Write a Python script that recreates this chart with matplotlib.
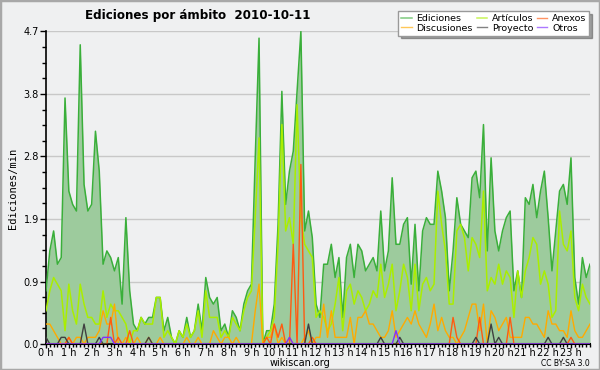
import matplotlib
matplotlib.use("Agg")
import matplotlib.pyplot as plt
from matplotlib.patches import Rectangle
from matplotlib.ticker import MultipleLocator, FixedLocator
import numpy as np

# ediciones por minuto, cada 10 minutos (144 puntos)
ediciones = [0.8, 1.4, 1.7, 1.2, 1.3, 3.7, 2.3, 2.1, 2.0, 4.5, 2.4, 2.0, 2.1, 3.2, 2.6, 1.2, 1.4, 1.3, 1.1, 1.3, 0.6, 1.9, 0.8, 0.3,
             0.2, 0.4, 0.3, 0.4, 0.4, 0.7, 0.7, 0.2, 0.4, 0.1, 0.0, 0.2, 0.1, 0.4, 0.1, 0.2, 0.6, 0.2, 1.0, 0.7, 0.6, 0.7, 0.2, 0.3,
             0.1, 0.5, 0.4, 0.2, 0.6, 0.8, 0.9, 2.8, 4.6, 0.0, 0.2, 0.2, 0.6, 1.8, 3.8, 2.1, 2.6, 2.9, 3.8, 4.7, 1.7, 2.0, 1.6, 0.6,
             0.4, 1.2, 1.2, 1.5, 1.0, 1.3, 0.4, 1.3, 1.5, 1.0, 1.5, 1.4, 1.1, 1.2, 1.3, 1.1, 2.0, 1.1, 1.4, 2.5, 1.5, 1.5, 1.8, 1.9,
             0.9, 1.8, 0.8, 1.7, 1.9, 1.8, 1.8, 2.6, 2.3, 1.9, 0.8, 1.4, 2.2, 1.8, 1.7, 1.6, 2.5, 2.6, 2.2, 3.3, 1.4, 2.8, 1.7, 1.4,
             1.7, 1.9, 2.0, 0.8, 1.1, 0.7, 2.2, 2.1, 2.4, 1.9, 2.3, 2.6, 1.9, 1.1, 1.7, 2.3, 2.4, 2.1, 2.8, 1.0, 0.6, 1.3, 1.0, 1.2]
articulos = [0.5, 0.8, 1.0, 0.9, 0.8, 0.2, 0.9, 0.5, 0.3, 0.9, 0.6, 0.4, 0.4, 0.3, 0.3, 0.8, 0.4, 0.6, 0.5, 0.5, 0.4, 0.3, 0.0, 0.2,
             0.2, 0.4, 0.3, 0.3, 0.3, 0.7, 0.7, 0.1, 0.2, 0.1, 0.0, 0.2, 0.1, 0.3, 0.1, 0.2, 0.5, 0.1, 0.8, 0.4, 0.4, 0.4, 0.1, 0.2,
             0.1, 0.4, 0.3, 0.2, 0.5, 0.7, 0.8, 1.9, 3.1, 0.0, 0.1, 0.2, 0.4, 1.5, 3.3, 1.7, 1.9, 1.5, 3.6, 1.9, 1.5, 1.4, 1.3, 0.4,
             0.5, 0.4, 0.2, 0.3, 0.6, 1.0, 0.2, 0.8, 0.9, 0.6, 0.8, 0.7, 0.5, 0.6, 0.8, 0.7, 1.2, 0.7, 0.9, 1.2, 0.5, 0.8, 1.2, 1.0,
             0.5, 1.2, 0.5, 0.9, 1.0, 0.8, 0.9, 2.3, 1.8, 1.4, 0.6, 0.6, 1.7, 1.8, 1.6, 1.1, 1.6, 1.5, 1.3, 2.3, 0.8, 1.0, 0.9, 1.2,
             0.9, 1.1, 1.0, 0.4, 1.1, 0.7, 1.1, 1.3, 1.6, 1.5, 0.9, 1.1, 0.9, 0.4, 0.5, 2.0, 1.5, 1.4, 1.7, 0.7, 0.5, 0.9, 0.7, 0.6]
discusiones = [0.3, 0.3, 0.2, 0.1, 0.0, 0.0, 0.1, 0.0, 0.1, 0.1, 0.0, 0.1, 0.1, 0.1, 0.2, 0.5, 0.3, 0.3, 0.6, 0.0, 0.0, 0.1, 0.0, 0.0,
               0.1, 0.0, 0.0, 0.1, 0.0, 0.0, 0.1, 0.0, 0.0, 0.0, 0.0, 0.0, 0.0, 0.1, 0.0, 0.0, 0.1, 0.0, 0.0, 0.0, 0.2, 0.1, 0.0, 0.1,
               0.1, 0.0, 0.1, 0.0, 0.0, 0.0, 0.0, 0.5, 0.9, 0.0, 0.1, 0.1, 0.3, 0.0, 0.1, 0.0, 0.1, 0.0, 0.0, 0.0, 0.1, 0.2, 0.0, 0.1,
               0.1, 0.6, 0.1, 0.5, 0.1, 0.1, 0.1, 0.1, 0.4, 0.0, 0.4, 0.4, 0.5, 0.3, 0.3, 0.2, 0.1, 0.1, 0.2, 0.5, 0.1, 0.2, 0.3, 0.4,
               0.3, 0.5, 0.3, 0.2, 0.1, 0.3, 0.6, 0.2, 0.4, 0.2, 0.1, 0.1, 0.0, 0.1, 0.2, 0.4, 0.6, 0.6, 0.2, 0.6, 0.0, 0.5, 0.4, 0.2,
               0.3, 0.4, 0.1, 0.1, 0.1, 0.1, 0.4, 0.4, 0.3, 0.3, 0.2, 0.1, 0.5, 0.3, 0.3, 0.2, 0.2, 0.1, 0.5, 0.2, 0.1, 0.1, 0.2, 0.3]
anexos = [0.0, 0.0, 0.0, 0.0, 0.0, 0.0, 0.1, 0.0, 0.0, 0.0, 0.0, 0.0, 0.0, 0.0, 0.0, 0.0, 0.0, 0.4, 0.0, 0.1, 0.0, 0.0, 0.2, 0.0,
          0.0, 0.0, 0.0, 0.0, 0.0, 0.0, 0.0, 0.0, 0.0, 0.0, 0.0, 0.0, 0.0, 0.0, 0.0, 0.0, 0.0, 0.0, 0.0, 0.0, 0.0, 0.0, 0.0, 0.0,
          0.0, 0.0, 0.0, 0.0, 0.0, 0.0, 0.0, 0.0, 0.0, 0.0, 0.1, 0.0, 0.3, 0.1, 0.3, 0.0, 0.0, 1.5, 0.0, 2.7, 0.0, 0.0, 0.1, 0.0,
          0.0, 0.0, 0.0, 0.0, 0.0, 0.0, 0.0, 0.0, 0.0, 0.0, 0.0, 0.0, 0.0, 0.0, 0.0, 0.0, 0.0, 0.0, 0.0, 0.0, 0.0, 0.0, 0.0, 0.0,
          0.0, 0.0, 0.0, 0.0, 0.0, 0.0, 0.0, 0.0, 0.0, 0.0, 0.0, 0.4, 0.1, 0.0, 0.0, 0.0, 0.0, 0.0, 0.4, 0.0, 0.0, 0.0, 0.0, 0.0,
          0.0, 0.0, 0.4, 0.0, 0.0, 0.0, 0.0, 0.0, 0.0, 0.0, 0.0, 0.0, 0.0, 0.0, 0.0, 0.0, 0.0, 0.0, 0.1, 0.0, 0.0, 0.0, 0.0, 0.0]
proyecto = [0.1, 0.0, 0.0, 0.0, 0.1, 0.1, 0.0, 0.0, 0.0, 0.0, 0.3, 0.0, 0.0, 0.0, 0.1, 0.0, 0.0, 0.0, 0.0, 0.0, 0.0, 0.0, 0.0, 0.0,
            0.0, 0.0, 0.0, 0.1, 0.0, 0.0, 0.0, 0.0, 0.0, 0.0, 0.0, 0.0, 0.0, 0.0, 0.0, 0.0, 0.0, 0.0, 0.0, 0.0, 0.0, 0.0, 0.0, 0.0,
            0.0, 0.0, 0.0, 0.0, 0.0, 0.0, 0.0, 0.0, 0.0, 0.0, 0.0, 0.0, 0.0, 0.0, 0.0, 0.0, 0.0, 0.0, 0.0, 0.0, 0.0, 0.3, 0.0, 0.0,
            0.0, 0.0, 0.0, 0.0, 0.0, 0.0, 0.0, 0.0, 0.0, 0.0, 0.0, 0.0, 0.0, 0.0, 0.0, 0.0, 0.1, 0.0, 0.0, 0.0, 0.0, 0.1, 0.0, 0.0,
            0.0, 0.0, 0.0, 0.0, 0.0, 0.0, 0.0, 0.0, 0.0, 0.0, 0.0, 0.0, 0.0, 0.0, 0.0, 0.0, 0.0, 0.1, 0.0, 0.0, 0.0, 0.3, 0.0, 0.1,
            0.0, 0.0, 0.0, 0.0, 0.0, 0.0, 0.0, 0.0, 0.0, 0.0, 0.0, 0.0, 0.1, 0.0, 0.0, 0.0, 0.1, 0.0, 0.0, 0.0, 0.0, 0.0, 0.0, 0.0]
otros = [0.0, 0.0, 0.0, 0.0, 0.0, 0.0, 0.0, 0.0, 0.0, 0.0, 0.0, 0.0, 0.0, 0.0, 0.0, 0.1, 0.1, 0.1, 0.0, 0.0, 0.0, 0.0, 0.0, 0.0,
         0.0, 0.0, 0.0, 0.0, 0.0, 0.0, 0.0, 0.0, 0.0, 0.0, 0.0, 0.0, 0.0, 0.0, 0.0, 0.0, 0.0, 0.0, 0.0, 0.0, 0.0, 0.0, 0.0, 0.0,
         0.0, 0.0, 0.0, 0.0, 0.0, 0.0, 0.0, 0.0, 0.0, 0.0, 0.0, 0.0, 0.0, 0.0, 0.0, 0.0, 0.1, 0.0, 0.0, 0.0, 0.0, 0.0, 0.0, 0.0,
         0.0, 0.0, 0.0, 0.0, 0.0, 0.0, 0.0, 0.0, 0.0, 0.0, 0.0, 0.0, 0.0, 0.0, 0.0, 0.0, 0.0, 0.0, 0.0, 0.0, 0.2, 0.0, 0.0, 0.0,
         0.0, 0.0, 0.0, 0.0, 0.0, 0.0, 0.0, 0.0, 0.0, 0.0, 0.0, 0.0, 0.0, 0.0, 0.0, 0.0, 0.0, 0.0, 0.0, 0.0, 0.0, 0.0, 0.0, 0.0,
         0.0, 0.0, 0.0, 0.0, 0.0, 0.0, 0.0, 0.0, 0.0, 0.0, 0.0, 0.0, 0.0, 0.0, 0.0, 0.0, 0.0, 0.0, 0.0, 0.0, 0.0, 0.0, 0.0, 0.0]
horas = ['%d h' % h for h in range(24)]
y_max = 4.7
y_labels = ['0.0', '0.9', '1.9', '2.8', '3.8', '4.7']

bg = '#eff0f1'
fig = plt.figure(figsize=(6, 3.7), dpi=100, facecolor=bg)
ax = fig.add_axes([46 / 600, 26 / 370, 544 / 600, 312.5 / 370], facecolor=bg)

x = np.arange(len(ediciones))
ax.fill_between(x, ediciones, 0, color='#9dcb9d', lw=0, zorder=2)
l_ed, = ax.plot(x, ediciones, color='#3aaf3a', lw=1.1, zorder=3)
l_art, = ax.plot(x, articulos, color='#aaee00', lw=1.1, zorder=4)
l_disc, = ax.plot(x, discusiones, color='#ffaa00', lw=1.0, zorder=5)
l_anex, = ax.plot(x, anexos, color='#ff5a10', lw=1.0, zorder=6)
l_proy, = ax.plot(x, proyecto, color='#404040', lw=1.0, zorder=7)
l_otros, = ax.plot(x, otros, color='#8030ff', lw=1.0, zorder=8)

ax.set_xlim(0, len(ediciones) - 1)
ax.set_ylim(0, y_max)
yt = np.linspace(0, y_max, 6)
ax.yaxis.set_major_locator(FixedLocator(yt))
ax.set_yticklabels(y_labels)
ax.yaxis.set_minor_locator(MultipleLocator(y_max / 20))
ax.xaxis.set_major_locator(FixedLocator(np.arange(0, 144, 6)))
ax.set_xticklabels(horas)
ax.xaxis.set_minor_locator(MultipleLocator(1))
ax.grid(axis='y', color='#c8c8c8', lw=1, zorder=1)
ax.set_axisbelow(True)
for s in ['top', 'right']:
    ax.spines[s].set_visible(False)
ax.spines['left'].set_linewidth(1.2)
ax.spines['bottom'].set_linewidth(1.5)
ax.tick_params(axis='y', which='major', length=4, width=1, labelsize=7, pad=1)
ax.tick_params(axis='y', which='minor', length=3, width=1)
ax.tick_params(axis='x', which='major', length=3, width=1, labelsize=7, pad=0)
ax.tick_params(axis='x', which='minor', length=2.5, width=1)

fig.text(0.142, 0.957, 'Ediciones por ámbito  2010-10-11', fontsize=8.6,
         fontweight='bold', va='center', ha='left')
fig.text(0.022, 0.49, 'Ediciones/min', rotation=90, fontsize=7.5,
         va='center', ha='center', family='DejaVu Sans Mono')
fig.text(0.5, 0.018, 'wikiscan.org', fontsize=7, ha='center', va='center')
fig.text(0.983, 0.018, 'CC BY-SA 3.0', fontsize=5.5, ha='right', va='center')

leg = fig.legend([l_ed, l_disc, l_art, l_proy, l_anex, l_otros],
                 ['Ediciones', 'Discusiones', 'Artículos', 'Proyecto', 'Anexos', 'Otros'],
                 loc='upper right', bbox_to_anchor=(0.99, 0.982), ncol=3,
                 fontsize=6.8, handlelength=1.1, handletextpad=0.5,
                 columnspacing=0.4, labelspacing=0.05, borderpad=0.3,
                 fancybox=False, shadow=True, edgecolor='#999999', framealpha=1)
for h in leg.legend_handles:
    h.set_alpha(0.65)

fig.patches.append(Rectangle((0, 0), 1, 1, transform=fig.transFigure, fill=False,
                             edgecolor='#a8a8a8', lw=2.5))
fig.savefig('out.png', dpi=100, facecolor=bg)
